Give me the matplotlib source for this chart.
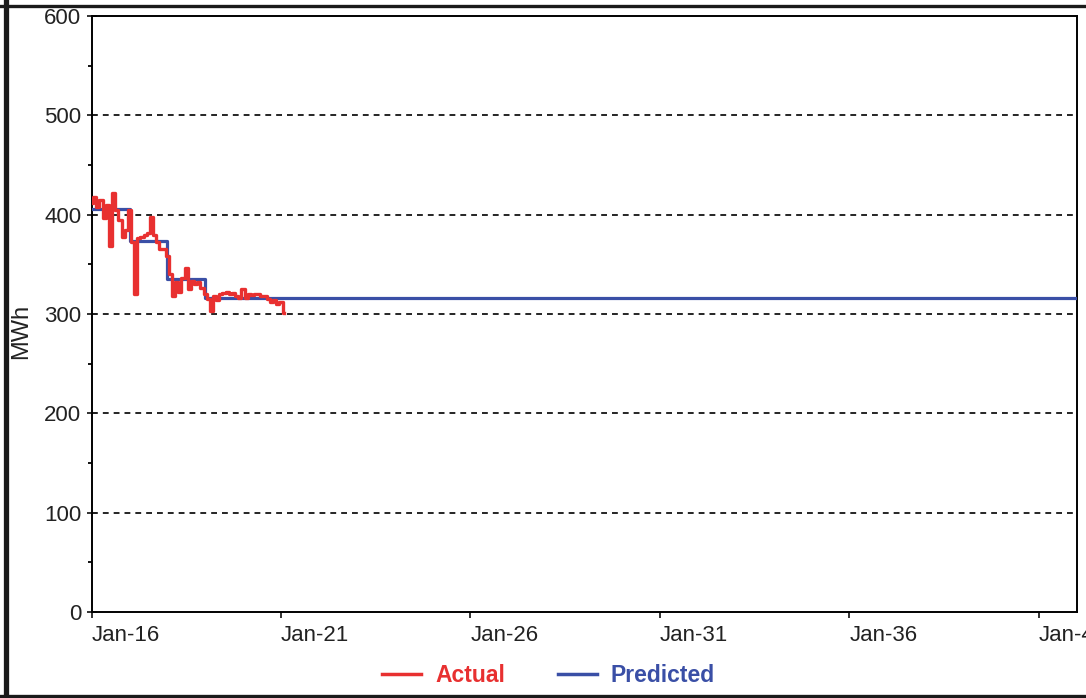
from datetime import date

import matplotlib

matplotlib.use("Agg")
import matplotlib.dates as mdates
import matplotlib.pyplot as plt
from matplotlib.lines import Line2D
from matplotlib.ticker import MultipleLocator

plt.rcParams["font.family"] = ["Liberation Sans", "DejaVu Sans"]

# monthly actuals, Jan 2016 onwards (MWh)
actual_start = (2016, 1)
actual_mwh = [
    412, 418, 408, 415, 397, 410, 368, 422, 405, 395, 378, 385,
    405, 372, 320, 376, 378, 380, 382, 398, 380, 372, 365, 365,
    358, 340, 318, 332, 322, 336, 346, 325, 333, 330, 332, 326,
    320, 315, 303, 318, 314, 320, 321, 322, 320, 321, 318, 316,
    325, 316, 320, 319, 320, 320, 318, 318, 315, 312, 314, 310,
    312, 301,
]

# predicted yearly levels (step changes each January)
predicted_years = [2016, 2017, 2018, 2019, 2042]
predicted_mwh = [406, 373, 335, 316, 316]

tick_years = [2016, 2021, 2026, 2031, 2036, 2041]

RED = "#e83030"
BLUE = "#3a4fa6"


def month_dates(start, n):
    y, m = start
    out = []
    for i in range(n):
        mm = m - 1 + i
        out.append(date(y + mm // 12, mm % 12 + 1, 1))
    return out


actual_dates = month_dates(actual_start, len(actual_mwh))
predicted_dates = [date(y, 1, 1) for y in predicted_years]

fig = plt.figure(figsize=(10.86, 6.98), dpi=100)
ax = fig.add_axes([0.0843, 0.1232, 0.9071, 0.8539])

ax.step(predicted_dates, predicted_mwh, where="post", color=BLUE, lw=2.3,
        label="Predicted", zorder=3)
ax.step(actual_dates, actual_mwh, where="mid", color=RED, lw=2.4,
        label="Actual", zorder=4)

ax.set_xlim(date(2016, 1, 1), date(2042, 1, 1))
ax.set_ylim(0, 600)

ax.yaxis.set_major_locator(MultipleLocator(100))
ax.yaxis.set_minor_locator(MultipleLocator(50))
ax.tick_params(axis="y", which="major", direction="inout", length=7, width=1.3,
               labelsize=16, pad=4, colors="#222222")
ax.tick_params(axis="y", which="minor", direction="out", length=3, width=1.3)

ax.set_xticks([date(y, 1, 1) for y in tick_years])
ax.xaxis.set_major_formatter(mdates.DateFormatter("%b-%y"))
ax.tick_params(axis="x", direction="out", length=4, width=1.3,
               labelsize=16, pad=5, colors="#222222")
for lbl in ax.get_xticklabels():
    lbl.set_horizontalalignment("left")

for y in range(100, 600, 100):
    ax.axhline(y, color="black", lw=1.2, ls=(0, (3.5, 3)), zorder=1)

for sp in ax.spines.values():
    sp.set_linewidth(1.4)

ax.set_ylabel("MWh", fontsize=17, color="#222222")
ax.yaxis.set_label_coords(-0.060, 0.47)

handles = [Line2D([], [], color=RED, lw=2.5), Line2D([], [], color=BLUE, lw=2.5)]
leg = fig.legend(handles, ["Actual", "Predicted"], loc="center",
                 bbox_to_anchor=(0.505, 0.032), ncol=2, frameon=False,
                 prop={"weight": "bold", "size": 16.5}, handlelength=1.7,
                 handletextpad=0.6, columnspacing=2.3)
for txt, c in zip(leg.get_texts(), [RED, BLUE]):
    txt.set_color(c)

# outer frame (left, top, bottom)
W, H = 1086, 698
fig.add_artist(Line2D([5.5 / W, 5.5 / W], [0, 1], color="#1a1a1a", lw=3.8,
                      transform=fig.transFigure))
fig.add_artist(Line2D([0, 1], [1 - 5.5 / H, 1 - 5.5 / H], color="#1a1a1a", lw=2.4,
                      transform=fig.transFigure))
fig.add_artist(Line2D([0, 1], [1 - 695.5 / H, 1 - 695.5 / H], color="#1a1a1a",
                      lw=2.4, transform=fig.transFigure))

fig.savefig("out.png", dpi=100)
